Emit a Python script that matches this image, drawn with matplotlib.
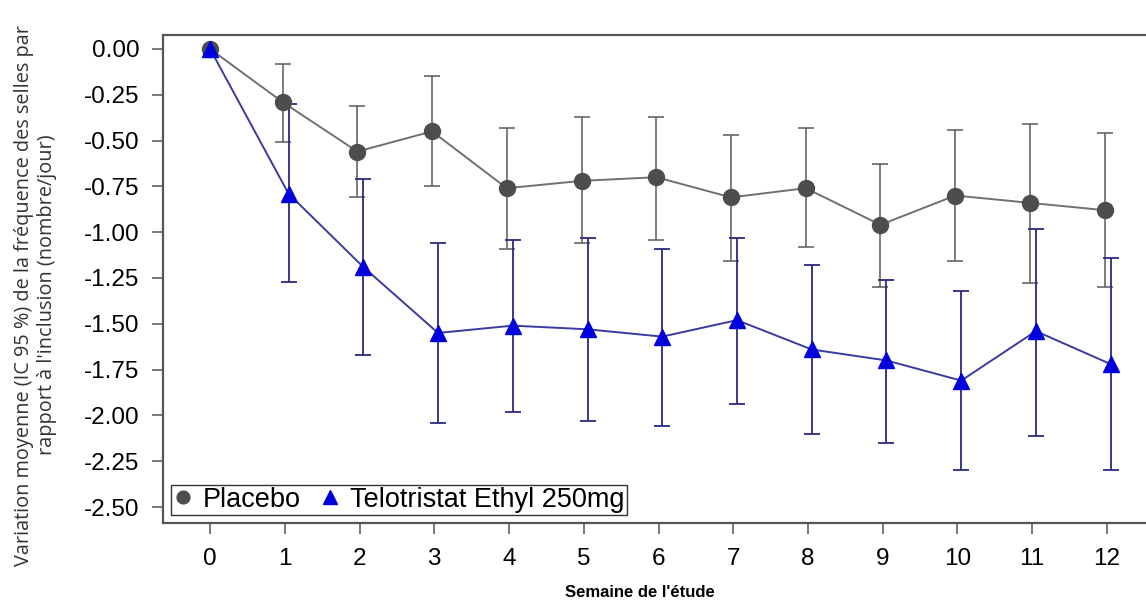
import matplotlib
matplotlib.use("Agg")
import matplotlib.pyplot as plt
import numpy as np

plt.rcParams['font.family'] = ['Liberation Sans', 'DejaVu Sans']

weeks = [0, 1, 2, 3, 4, 5, 6, 7, 8, 9, 10, 11, 12]
placebo_mean = [0.00, -0.29, -0.56, -0.45, -0.76, -0.72, -0.70, -0.81, -0.76, -0.96, -0.80, -0.84, -0.88]
placebo_low = [0.00, -0.51, -0.81, -0.75, -1.09, -1.06, -1.04, -1.16, -1.08, -1.30, -1.16, -1.28, -1.30]
placebo_high = [0.00, -0.08, -0.31, -0.15, -0.43, -0.37, -0.37, -0.47, -0.43, -0.63, -0.44, -0.41, -0.46]
telo_mean = [0.00, -0.79, -1.19, -1.55, -1.51, -1.53, -1.57, -1.48, -1.64, -1.70, -1.81, -1.54, -1.72]
telo_low = [0.00, -1.27, -1.67, -2.04, -1.98, -2.03, -2.06, -1.94, -2.10, -2.15, -2.30, -2.11, -2.30]
telo_high = [0.00, -0.30, -0.71, -1.06, -1.04, -1.03, -1.09, -1.03, -1.18, -1.26, -1.32, -0.98, -1.14]
yticks = [0.00, -0.25, -0.50, -0.75, -1.00, -1.25, -1.50, -1.75, -2.00, -2.25, -2.50]

W, H = 1146, 608
fig = plt.figure(figsize=(W / 100, H / 100), dpi=100)
ax = fig.add_axes([163 / W, 1 - 523 / H, 991 / W, (523 - 35) / H])

wk = np.array(weeks, dtype=float)
dodge_p = np.where(wk > 0, -0.03, 0.0)
dodge_t = np.where(wk > 0, 0.05, 0.0)

pm = np.array(placebo_mean)
tm = np.array(telo_mean)
p_err = [pm - np.array(placebo_low), np.array(placebo_high) - pm]
t_err = [tm - np.array(telo_low), np.array(telo_high) - tm]

grey = '#4d4d4d'
navy = '#2a2a80'
blue = '#0000dd'

mask = wk > 0
ax.errorbar(wk[mask] + dodge_p[mask], pm[mask], yerr=[e[mask] for e in p_err], fmt='none',
            ecolor='#5a5a5a', elinewidth=1.1, capsize=5.5, capthick=1.1, zorder=2)
ax.errorbar(wk[mask] + dodge_t[mask], tm[mask], yerr=[e[mask] for e in t_err], fmt='none',
            ecolor=navy, elinewidth=1.3, capsize=5.5, capthick=1.3, zorder=2)

ax.plot(wk + dodge_p, pm, '-', color='#707070', lw=1.4, zorder=3)
ax.plot(wk + dodge_t, tm, '-', color='#3a3aa0', lw=1.4, zorder=3)
ax.plot(wk + dodge_p, pm, 'o', color=grey, ms=11.5, mec=grey, zorder=4, label='Placebo')
ax.plot(wk + dodge_t, tm, '^', color=blue, ms=12, mec=blue, zorder=5, label='Telotristat Ethyl 250mg')

ax.set_xlim(-0.63, 12.63)
ax.set_ylim(-2.587, 0.076)
ax.set_xticks(weeks)
ax.set_xticklabels([str(w) for w in weeks])
ax.set_yticks(yticks)
ax.set_yticklabels([f"{v:.2f}" for v in yticks])
ax.tick_params(axis='both', direction='out', length=8, width=1.2, color='#606060',
               labelsize=17.5, labelcolor='black')
ax.tick_params(axis='y', pad=9)
ax.tick_params(axis='x', pad=10)
for s in ax.spines.values():
    s.set_color('#555555')
    s.set_linewidth(1.6)

ax.set_xlabel("Semaine de l'étude", fontsize=12, fontweight='bold')
ax.xaxis.set_label_coords((640 - 163) / 991, -(585 - 523) / 488, transform=ax.transAxes)
ax.set_ylabel("Variation moyenne (IC 95 %) de la fréquence des selles par\nrapport à l'inclusion (nombre/jour)",
              fontsize=14.3, color='#333333', family=['Open Sans', 'DejaVu Sans'], linespacing=1.2)
ax.yaxis.set_label_coords(-(163 - 57) / 991, (523 - 295) / 488, transform=ax.transAxes)

leg = ax.legend(loc='lower left', ncol=2, fontsize=19.5, frameon=True, fancybox=False,
                handlelength=0.7, handletextpad=0.4, columnspacing=0.7,
                borderpad=0.08, borderaxespad=0.3, markerscale=0.8)
leg.get_frame().set_edgecolor('black')
leg.get_frame().set_linewidth(1.0)

fig.savefig('out.png', dpi=100)
